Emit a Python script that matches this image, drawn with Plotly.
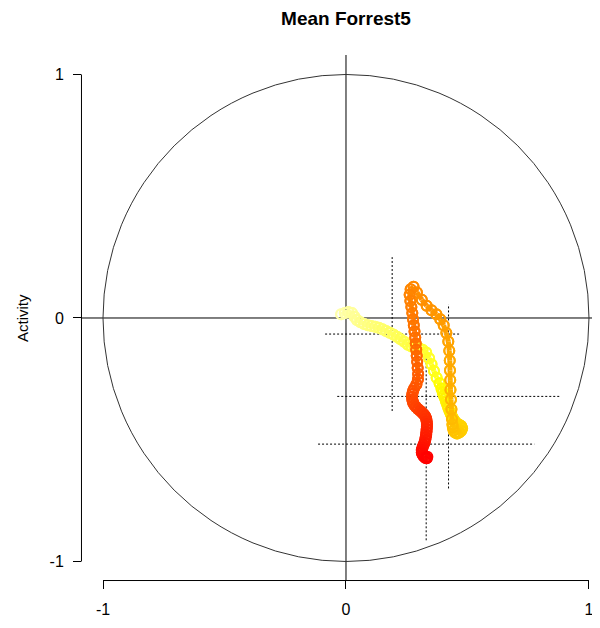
import plotly.graph_objects as go
import colorsys

# ---------------- data ----------------
title_text = "Mean Forrest5"
y_label = "Activity"
tick_vals = [-1, 0, 1]
tick_text = ["-1", "0", "1"]

# trajectory (x = valence-like, y = activity), in time order
path_x = [
    -0.02, -0.005, 0.01, 0.025, 0.035, 0.045, 0.06, 0.075, 0.09, 0.105,
    0.12, 0.135, 0.15, 0.165, 0.18, 0.195, 0.21, 0.225, 0.24, 0.255,
    0.27, 0.285, 0.30, 0.315, 0.33, 0.342, 0.352, 0.362, 0.373, 0.385,
    0.393, 0.398, 0.403, 0.408, 0.412, 0.417, 0.421, 0.426, 0.431, 0.436,
    0.442, 0.449, 0.457, 0.466, 0.474, 0.478, 0.474, 0.466, 0.457, 0.449,
    0.443, 0.440, 0.438,
    0.436, 0.434, 0.432, 0.430, 0.429, 0.428, 0.427, 0.425, 0.421, 0.413,
    0.402, 0.388, 0.372, 0.352, 0.332, 0.312, 0.292, 0.278,
    0.266, 0.262, 0.265, 0.269, 0.273, 0.276, 0.279, 0.282, 0.285, 0.287,
    0.289, 0.291, 0.293, 0.295, 0.297, 0.296, 0.290, 0.281,
    0.276, 0.273, 0.272, 0.273, 0.276, 0.281, 0.288, 0.296, 0.305, 0.313,
    0.320, 0.326, 0.330, 0.332, 0.333, 0.333, 0.332, 0.331, 0.330, 0.328,
    0.326, 0.323, 0.319, 0.315, 0.312, 0.312, 0.315, 0.320, 0.326, 0.332,
    0.335,
]
path_y = [
    0.015, 0.020, 0.025, 0.020, 0.005, -0.008, -0.018, -0.025, -0.030, -0.033,
    -0.036, -0.040, -0.046, -0.053, -0.061, -0.068, -0.077, -0.087, -0.098, -0.110,
    -0.117, -0.120, -0.123, -0.130, -0.142, -0.165, -0.190, -0.218, -0.245, -0.268,
    -0.290, -0.305, -0.318, -0.330, -0.343, -0.356, -0.369, -0.382, -0.394, -0.405,
    -0.415, -0.425, -0.433, -0.438, -0.444, -0.453, -0.463, -0.470, -0.474, -0.470,
    -0.462, -0.450, -0.437,
    -0.415, -0.375, -0.335, -0.295, -0.255, -0.215, -0.175, -0.135, -0.097, -0.062,
    -0.030, -0.005, 0.015, 0.032, 0.050, 0.075, 0.105, 0.128,
    0.118, 0.095, 0.070, 0.045, 0.020, -0.005, -0.030, -0.055, -0.080, -0.105,
    -0.130, -0.155, -0.180, -0.205, -0.230, -0.252, -0.272, -0.288,
    -0.300, -0.312, -0.324, -0.336, -0.347, -0.357, -0.366, -0.374, -0.381, -0.388,
    -0.395, -0.403, -0.413, -0.424, -0.435, -0.446, -0.457, -0.468, -0.479, -0.490,
    -0.501, -0.512, -0.522, -0.532, -0.542, -0.552, -0.561, -0.568, -0.574, -0.576,
    -0.570,
]

# dotted crosses (mean +/- spread)
cross_x = [0.19, 0.422, 0.33]
cross_y = [-0.066, -0.322, -0.518]
cross_xerr = [0.276, 0.458, 0.445]
cross_yerr = [0.316, 0.378, 0.395]

# ---------------- styling helpers ----------------
def heat(f):
    if f < 0.25:
        t = f / 0.25
        b = 176 + (20 - 176) * t
        return "rgb(255,255,%d)" % round(b)
    h = 60 * (1 - (f - 0.25) / 0.75)
    r, g, b = colorsys.hsv_to_rgb(h / 360.0, 1, 1)
    return "rgb(%d,%d,%d)" % (round(r * 255), round(g * 255), round(b * 255))

N = len(path_x)
cols = [heat(i / (N - 1)) for i in range(N)]

fig = go.Figure()

# dotted crosses
for cx, cy, ex, ey in zip(cross_x, cross_y, cross_xerr, cross_yerr):
    fig.add_trace(go.Scatter(x=[cx - ex, cx + ex], y=[cy, cy], mode="lines",
                             line=dict(color="black", width=1, dash="2px,2px"),
                             hoverinfo="skip", showlegend=False))
    fig.add_trace(go.Scatter(x=[cx, cx], y=[cy - ey, cy + ey], mode="lines",
                             line=dict(color="black", width=1, dash="2px,2px"),
                             hoverinfo="skip", showlegend=False))

# trajectory
mk = dict(symbol="circle-open", size=10, line=dict(width=2))
fig.add_trace(go.Scatter(x=[path_x[0]], y=[path_y[0]], mode="markers",
                         marker=dict(mk, color=cols[0]), showlegend=False))
for i in range(1, N):
    fig.add_trace(go.Scatter(
        x=[path_x[i - 1], path_x[i]], y=[path_y[i - 1], path_y[i]],
        mode="lines+markers",
        line=dict(color=cols[i], width=5),
        marker=dict(mk, color=cols[i]),
        showlegend=False, hoverinfo="skip"))

shapes = [
    dict(type="circle", xref="x", yref="y", x0=-1, y0=-1, x1=1, y1=1,
         line=dict(color="#333333", width=1), layer="below"),
    dict(type="line", xref="paper", yref="y", x0=0, x1=1, y0=0, y1=0,
         line=dict(color="black", width=1), layer="below"),
    dict(type="line", xref="x", yref="paper", x0=0, x1=0, y0=0, y1=1,
         line=dict(color="black", width=1), layer="below"),
    # R-style axis lines spanning only first..last tick
    dict(type="line", xref="x", yref="paper", x0=-1, x1=1, y0=-0.001, y1=-0.001,
         line=dict(color="black", width=1)),
    dict(type="line", xref="paper", yref="y", x0=-0.001, x1=-0.001, y0=-1, y1=1,
         line=dict(color="black", width=1)),
]

axis_common = dict(showgrid=False, zeroline=False, showline=False,
                   ticks="outside", ticklen=8, tickwidth=1, tickcolor="black",
                   tickvals=tick_vals, ticktext=tick_text,
                   tickfont=dict(family="Liberation Sans, Arial", size=16, color="black"))

# page body has an 8px margin: figure coordinates are page coordinates - 8
W, H = 592, 620
L, T, B = 74, 47, 48
PW, PH = W - L, H - T - B

fig.update_layout(
    width=W, height=H,
    margin=dict(l=L, r=0, t=T, b=B),
    paper_bgcolor="white", plot_bgcolor="white",
    title=dict(text="<b>%s</b>" % title_text, x=338 / W, xanchor="center",
               y=1 - 10 / H, yanchor="middle",
               font=dict(family="Liberation Sans, Arial", size=19, color="black")),
    xaxis=dict(axis_common, range=[-1.0864, 1.0453], ticklabelstandoff=7),
    yaxis=dict(axis_common, range=[-1.076, 1.080], ticklabelstandoff=6),
    shapes=shapes,
    annotations=[dict(text=y_label, xref="paper", yref="paper",
                      x=(14 - L) / PW, y=(T + PH - 310) / PH,
                      xanchor="center", yanchor="middle", textangle=-90,
                      showarrow=False,
                      font=dict(family="Liberation Sans, Arial", size=15, color="black"))],
)

fig.write_html("out.html")
